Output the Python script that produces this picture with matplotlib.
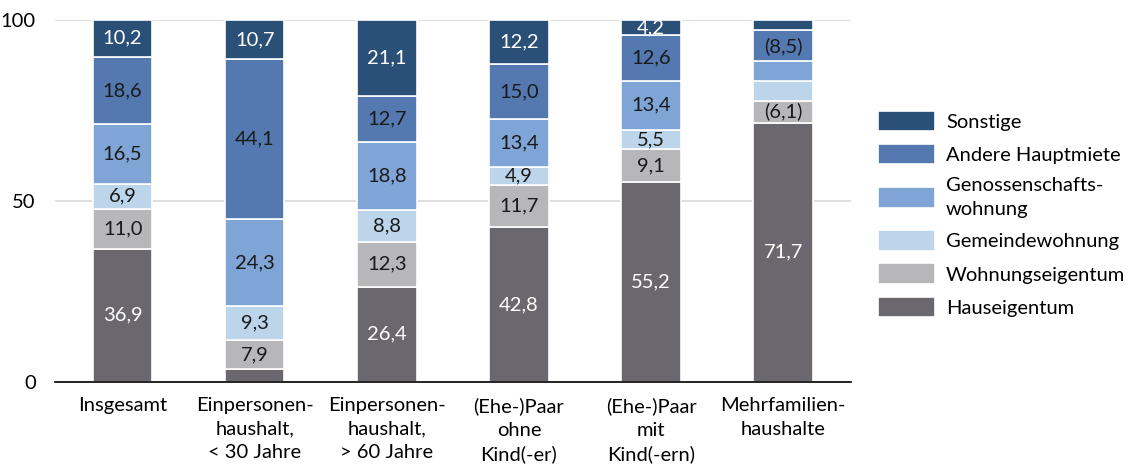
"""Wohnrechtsform nach Haushaltstyp - gestapeltes Balkendiagramm
"""

#%% Imports
import matplotlib
matplotlib.use('Agg')
import matplotlib.pyplot as plt
import numpy as np

#%% Data

categories = ['Insgesamt', 'Einpersonen-\nhaushalt,\n< 30 Jahre', 'Einpersonen-\nhaushalt,\n> 60 Jahre',
              '(Ehe-)Paar\nohne\nKind(-er)', '(Ehe-)Paar\nmit\nKind(-ern)', 'Mehrfamilien-\nhaushalte']

series_names = ['Hauseigentum', 'Wohnungseigentum', 'Gemeindewohnung',
                'Genossenschafts-\nwohnung', 'Andere Hauptmiete', 'Sonstige']

hauseigentum = [36.9, 3.7, 26.4, 42.8, 55.2, 71.7]
wohnungseigentum = [11.0, 7.9, 12.3, 11.7, 9.1, 6.1]
gemeindewohnung = [6.9, 9.3, 8.8, 4.9, 5.5, 5.3]
genossenschaft = [16.5, 24.3, 18.8, 13.4, 13.4, 5.6]
andere_hauptmiete = [18.6, 44.1, 12.7, 15.0, 12.6, 8.5]
sonstige = [10.2, 10.7, 21.1, 12.2, 4.2, 2.8]

# segment labels, None = no label
labels_haus = ['36,9', None, '26,4', '42,8', '55,2', '71,7']
labels_wohnung = ['11,0', '7,9', '12,3', '11,7', '9,1', '(6,1)']
labels_gemeinde = ['6,9', '9,3', '8,8', '4,9', '5,5', None]
labels_genossen = ['16,5', '24,3', '18,8', '13,4', '13,4', None]
labels_andere = ['18,6', '44,1', '12,7', '15,0', '12,6', '(8,5)']
labels_sonstige = ['10,2', '10,7', '21,1', '12,2', '4,2', None]

y_ticks = [0, 50, 100]

#%% Style
plt.rcParams['font.family'] = ['Lato', 'DejaVu Sans']
colors = ['#6a686e', '#b7b7ba', '#bcd5ea', '#7ea5d5', '#5478b0', '#2a5078']
text_colors = ['white', '#1a1a1a', '#1a1a1a', '#1a1a1a', '#1a1a1a', 'white']
fs = 14.5

#%% Plot
fig = plt.figure(figsize=(11.28, 4.70), dpi=100)
ax = fig.add_axes([0.049, 0.187, 0.705, 0.770])

values = [hauseigentum, wohnungseigentum, gemeindewohnung, genossenschaft, andere_hauptmiete, sonstige]
labels = [labels_haus, labels_wohnung, labels_gemeinde, labels_genossen, labels_andere, labels_sonstige]

x = np.arange(len(categories))
bottom = np.zeros(len(categories))
handles = []
for vals, labs, name, col, tcol in zip(values, labels, series_names, colors, text_colors):
    vals = np.array(vals)
    bars = ax.bar(x, vals, bottom=bottom, width=0.45, color=col, edgecolor='white',
                  linewidth=1.2, label=name, zorder=3)
    handles.append(bars)
    for xi, b, v, lab in zip(x, bottom, vals, labs):
        if lab is not None:
            ax.text(xi, b + v / 2, lab, ha='center', va='center', fontsize=fs,
                    color=tcol, zorder=4)
    bottom = bottom + vals

ax.set_xlim(-0.51, 5.51)
ax.set_ylim(0, 100)
ax.set_yticks(y_ticks)
ax.set_yticklabels([str(t) for t in y_ticks], fontsize=fs)
ax.yaxis.grid(True, color='#d9d9d9', linewidth=1.2, zorder=0)
ax.tick_params(axis='y', length=0, pad=14)
ax.tick_params(axis='x', length=0, pad=11)
ax.set_xticks(x)
ax.set_xticklabels(categories, fontsize=fs, linespacing=1.45)

for side in ['top', 'right', 'left']:
    ax.spines[side].set_visible(False)
ax.spines['bottom'].set_color('black')
ax.spines['bottom'].set_linewidth(1.2)
ax.spines['bottom'].set_zorder(5)

leg = fig.legend(handles[::-1], series_names[::-1], loc='center left',
                 bbox_to_anchor=(0.762, 0.545), frameon=False, fontsize=fs,
                 handlelength=2.85, handleheight=1.2, labelspacing=0.62, handletextpad=0.55)
for t in leg.get_texts():
    t.set_linespacing(1.5)
for patch in leg.get_patches():
    patch.set_edgecolor('white')

fig.savefig('out.png', dpi=100)
